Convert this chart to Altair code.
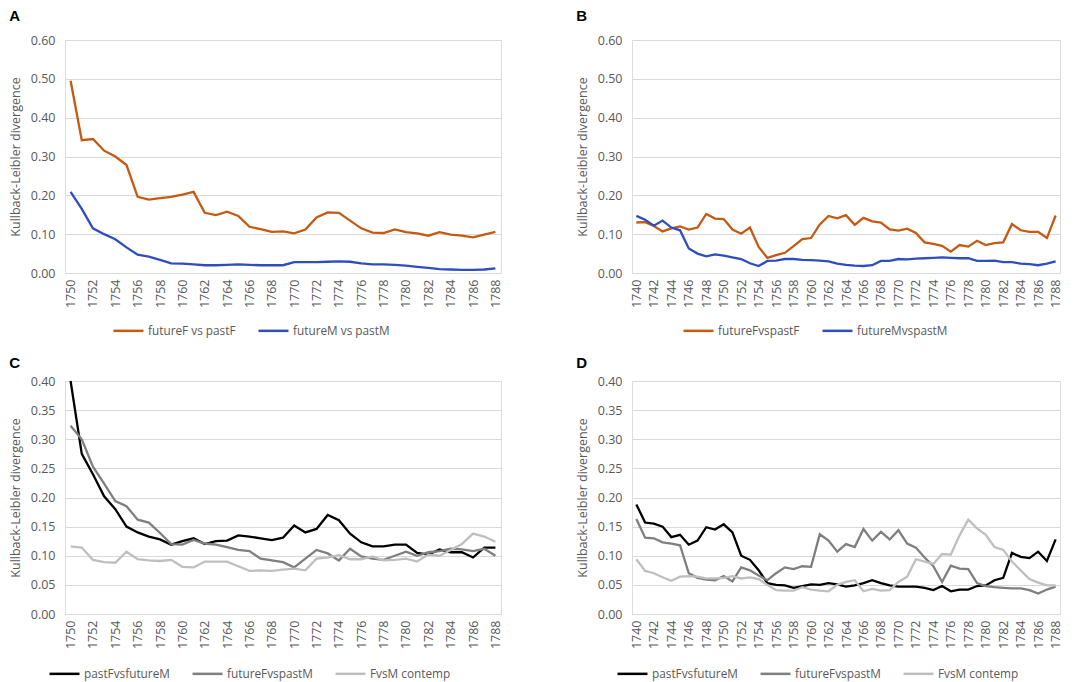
import altair as alt
import pandas as pd

years_ac = list(range(1750, 1789))
years_bd = list(range(1740, 1789))

# Panel A
a_futureF_pastF = [0.495, 0.342, 0.345, 0.315, 0.300, 0.278, 0.196, 0.189, 0.193, 0.196,
                   0.202, 0.209, 0.155, 0.149, 0.158, 0.147, 0.119, 0.113, 0.106, 0.107,
                   0.102, 0.112, 0.143, 0.156, 0.155, 0.135, 0.115, 0.104, 0.103, 0.112,
                   0.105, 0.102, 0.096, 0.105, 0.099, 0.096, 0.092, 0.099, 0.106]
a_futureM_pastM = [0.209, 0.165, 0.115, 0.100, 0.087, 0.066, 0.047, 0.042, 0.034, 0.025,
                   0.024, 0.022, 0.020, 0.020, 0.021, 0.022, 0.021, 0.020, 0.020, 0.020,
                   0.028, 0.028, 0.028, 0.029, 0.030, 0.029, 0.025, 0.022, 0.022, 0.021,
                   0.019, 0.016, 0.013, 0.010, 0.009, 0.008, 0.008, 0.009, 0.012]

# Panel B
b_futureF_pastF = [0.130, 0.131, 0.121, 0.107, 0.115, 0.120, 0.112, 0.117, 0.152, 0.140,
                   0.139, 0.112, 0.101, 0.117, 0.067, 0.039, 0.046, 0.052, 0.069, 0.087,
                   0.090, 0.125, 0.147, 0.141, 0.149, 0.124, 0.142, 0.133, 0.130, 0.112,
                   0.109, 0.114, 0.103, 0.079, 0.075, 0.070, 0.055, 0.072, 0.068, 0.083,
                   0.072, 0.077, 0.079, 0.126, 0.110, 0.106, 0.106, 0.090, 0.148]
b_futureM_pastM = [0.147, 0.137, 0.122, 0.135, 0.117, 0.110, 0.063, 0.050, 0.043, 0.048,
                   0.045, 0.040, 0.036, 0.025, 0.018, 0.031, 0.032, 0.036, 0.036, 0.034,
                   0.033, 0.032, 0.030, 0.024, 0.021, 0.019, 0.018, 0.020, 0.031, 0.031,
                   0.036, 0.035, 0.037, 0.038, 0.039, 0.040, 0.039, 0.038, 0.038, 0.031,
                   0.031, 0.032, 0.028, 0.028, 0.024, 0.023, 0.020, 0.024, 0.030]

# Panel C
c_pastF_futureM = [0.400, 0.275, 0.240, 0.202, 0.180, 0.150, 0.140, 0.133, 0.128, 0.119,
                   0.125, 0.130, 0.120, 0.125, 0.126, 0.135, 0.133, 0.130, 0.127, 0.131,
                   0.152, 0.140, 0.146, 0.170, 0.161, 0.138, 0.123, 0.116, 0.116, 0.119,
                   0.119, 0.105, 0.102, 0.111, 0.106, 0.106, 0.097, 0.114, 0.114]
c_futureF_pastM = [0.323, 0.300, 0.253, 0.224, 0.194, 0.185, 0.162, 0.157, 0.139, 0.120,
                   0.119, 0.127, 0.121, 0.119, 0.115, 0.110, 0.108, 0.095, 0.092, 0.089,
                   0.080, 0.095, 0.110, 0.104, 0.092, 0.112, 0.099, 0.095, 0.093, 0.100,
                   0.107, 0.100, 0.106, 0.108, 0.112, 0.111, 0.108, 0.112, 0.100]
c_FvsM_contemp = [0.116, 0.114, 0.093, 0.089, 0.088, 0.107, 0.094, 0.092, 0.091, 0.093,
                  0.081, 0.080, 0.090, 0.090, 0.090, 0.082, 0.074, 0.075, 0.074, 0.076,
                  0.078, 0.075, 0.095, 0.097, 0.101, 0.094, 0.094, 0.099, 0.092, 0.093,
                  0.095, 0.090, 0.102, 0.100, 0.110, 0.120, 0.138, 0.133, 0.124]

# Panel D
d_pastF_futureM = [0.188, 0.157, 0.155, 0.150, 0.132, 0.136, 0.119, 0.126, 0.149, 0.145,
                   0.154, 0.140, 0.100, 0.093, 0.075, 0.053, 0.050, 0.049, 0.045, 0.048,
                   0.051, 0.050, 0.053, 0.051, 0.047, 0.049, 0.053, 0.058, 0.053, 0.049,
                   0.047, 0.047, 0.047, 0.045, 0.041, 0.048, 0.039, 0.042, 0.042, 0.048,
                   0.049, 0.058, 0.062, 0.105, 0.098, 0.096, 0.107, 0.091, 0.128]
d_futureF_pastM = [0.163, 0.131, 0.130, 0.123, 0.121, 0.118, 0.070, 0.062, 0.059, 0.058,
                   0.065, 0.056, 0.080, 0.075, 0.066, 0.058, 0.070, 0.080, 0.077, 0.082,
                   0.081, 0.137, 0.126, 0.107, 0.120, 0.115, 0.146, 0.126, 0.141, 0.128,
                   0.144, 0.121, 0.114, 0.097, 0.082, 0.055, 0.083, 0.078, 0.077, 0.053,
                   0.048, 0.046, 0.045, 0.044, 0.044, 0.041, 0.035, 0.042, 0.047]
d_FvsM_contemp = [0.094, 0.074, 0.070, 0.063, 0.057, 0.064, 0.065, 0.064, 0.061, 0.061,
                  0.062, 0.065, 0.061, 0.063, 0.060, 0.050, 0.041, 0.040, 0.040, 0.046,
                  0.042, 0.040, 0.039, 0.050, 0.055, 0.058, 0.039, 0.043, 0.040, 0.041,
                  0.055, 0.064, 0.094, 0.090, 0.086, 0.103, 0.102, 0.135, 0.162, 0.147,
                  0.136, 0.115, 0.110, 0.090, 0.075, 0.060, 0.054, 0.049, 0.049]

names_a = ["futureF vs pastF", "futureM vs pastM"]
names_b = ["futureFvspastF", "futureMvspastM"]
names_cd = ["pastFvsfutureM", "futureFvspastM", "FvsM contemp"]
colors_ab = ["#C55A11", "#2E4EC0"]
colors_cd = ["#000000", "#7F7F7F", "#BFBFBF"]

FONT = "Open Sans"
TXT = "#595959"
GRID = "#D9D9D9"


def panel(letter, years, series, names, colors, ymax, ystep, legend_x, legend_y,
          width, title_offset):
    rows = []
    for name, vals in zip(names, series):
        for yr, v in zip(years, vals):
            rows.append({"year": yr, "value": v, "series": name})
    df = pd.DataFrame(rows)
    nticks = int(round(ymax / ystep))
    yvals = [round(i * ystep, 2) for i in range(nticks + 1)]
    x = alt.X("year:Q",
              scale=alt.Scale(domain=[years[0] - 0.5, years[-1] + 0.5], nice=False, zero=False),
              axis=alt.Axis(values=list(range(years[0], years[-1] + 1, 2)), format="d",
                            labelAngle=-90, title=None, grid=False, ticks=False,
                            domainColor=GRID, domainWidth=1.2, labelPadding=6,
                            labelColor=TXT, labelFont=FONT, labelFontSize=12.5))
    y = alt.Y("value:Q",
              scale=alt.Scale(domain=[0, ymax], nice=False),
              axis=alt.Axis(values=yvals, format=".2f", title="Kullback-Leibler divergence",
                            domain=False, ticks=False, gridColor=GRID, gridWidth=1.2,
                            labelColor=TXT, labelFont=FONT, labelFontSize=12.5, labelPadding=10,
                            titleColor=TXT, titleFont=FONT, titleFontSize=12.5,
                            titleFontWeight="normal", titlePadding=8))
    color = alt.Color("series:N",
                      scale=alt.Scale(domain=names, range=colors),
                      legend=alt.Legend(orient="none", legendX=legend_x, legendY=legend_y,
                                        direction="horizontal", title=None,
                                        symbolType="stroke", symbolSize=900,
                                        symbolStrokeWidth=2.5, labelFont=FONT,
                                        labelFontSize=11.8, labelColor=TXT,
                                        labelOffset=3, columnPadding=17))
    return (alt.Chart(df)
            .mark_line(strokeWidth=2.3)
            .encode(x=x, y=y, color=color)
            .properties(width=width, height=233,
                        title=alt.TitleParams(letter, anchor="start", font="Liberation Sans",
                                              fontSize=15, fontWeight="bold", color="#000000",
                                              offset=title_offset)))


pa = panel("A", years_ac, [a_futureF_pastF, a_futureM_pastM], names_a, colors_ab,
           0.6, 0.1, 47, 274, 436, 10)
pb = panel("B", years_bd, [b_futureF_pastF, b_futureM_pastM], names_b, colors_ab,
           0.6, 0.1, 50, 274, 428, 10)
pc = panel("C", years_ac, [c_pastF_futureM, c_futureF_pastM, c_FvsM_contemp], names_cd, colors_cd,
           0.4, 0.05, -17, 276, 436, 4)
pd_ = panel("D", years_bd, [d_pastF_futureM, d_futureF_pastM, d_FvsM_contemp], names_cd, colors_cd,
            0.4, 0.05, -16, 276, 428, 4)

top = alt.hconcat(pa, pb, spacing=72).resolve_scale(color="independent").resolve_legend(color="independent")
bottom = alt.hconcat(pc, pd_, spacing=72).resolve_scale(color="independent").resolve_legend(color="independent")

chart = (alt.vconcat(top, bottom, spacing=16)
         .resolve_scale(color="independent")
         .resolve_legend(color="independent")
         .properties(padding=0)
         .configure_view(stroke=None)
         .configure(background="white"))

chart.save("out.html", embed_options={"renderer": "svg", "actions": False})
